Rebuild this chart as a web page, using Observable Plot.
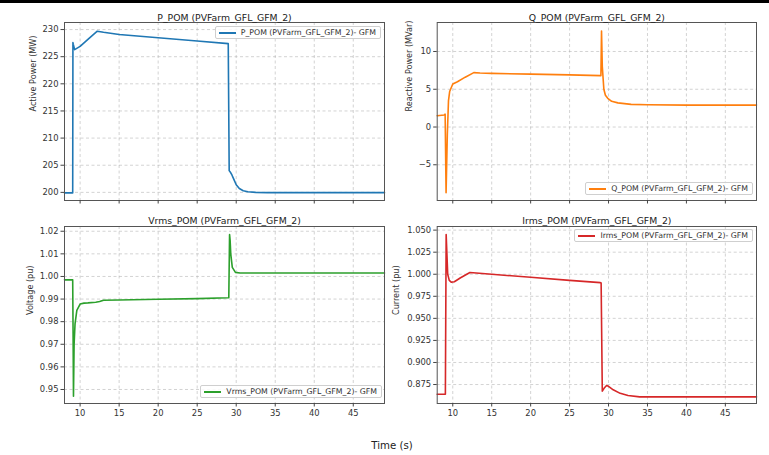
<!DOCTYPE html>
<html>
<head>
<meta charset="utf-8">
<script src="https://cdn.jsdelivr.net/npm/d3@7"></script>
<script src="https://cdn.jsdelivr.net/npm/@observablehq/plot@0.6"></script>
<style>
  html, body { margin: 0; padding: 0; background: #fff; }
  #wrap { position: relative; width: 769px; height: 455px; background: #fff; overflow: hidden; font-family: "DejaVu Sans", sans-serif; }
  #topbar { position: absolute; left: 0; top: 0; width: 769px; height: 3px; background: #000; }
  .panel { position: absolute; }
  .legend { position: absolute; display: flex; align-items: center; height: 13px; padding: 0 4px 0 3px;
            border: 1px solid #cfcfcf; border-radius: 2px; background: rgba(255,255,255,0.85);
            font-size: 7.8px; color: #333; white-space: nowrap; box-sizing: border-box; }
  .legend .swatch { display: inline-block; width: 17px; height: 2px; margin-right: 5px; }
  #xlabel { position: absolute; left: 0; width: 784px; top: 440px; text-align: center; font-size: 10.2px; color: #222; }
</style>
</head>
<body>
<div id="wrap">
  <div id="topbar"></div>
  <div id="xlabel">Time (s)</div>
</div>
<script>
// ---- data ----
const xTicks = [10, 15, 20, 25, 30, 35, 40, 45];

const pTime = [8, 9.05, 9.08, 9.12, 9.3, 10, 11, 12.2, 13, 15, 20, 25, 28.98, 29.1, 29.3, 29.45, 29.7, 30.0, 30.4, 30.9, 31.5, 32.5, 34, 49];
const pVal  = [199.9, 199.9, 227.6, 227.3, 226.3, 226.9, 228.2, 229.7, 229.5, 229.1, 228.5, 227.9, 227.4, 204.0, 203.6, 203.2, 202.4, 201.4, 200.7, 200.3, 200.1, 200.0, 199.95, 199.95];

const qTime = [8, 8.9, 9.02, 9.14, 9.3, 9.45, 9.6, 10.0, 10.6, 11.6, 12.7, 13.5, 15, 20, 25, 28.95, 29.02, 29.1, 29.2, 29.4, 29.6, 29.9, 30.4, 31.2, 32.9, 35, 40, 49];
const qVal  = [1.5, 1.6, 1.7, -8.7, -1.0, 3.5, 4.7, 5.7, 6.0, 6.6, 7.2, 7.15, 7.1, 7.0, 6.9, 6.8, 6.8, 12.7, 8.0, 5.0, 4.2, 3.8, 3.4, 3.2, 3.0, 2.95, 2.9, 2.9];

const vTime = [8, 9.05, 9.1, 9.15, 9.23, 9.35, 9.58, 10.0, 10.5, 11, 12, 12.5, 13, 15, 20, 25, 28.98, 29.05, 29.15, 29.22, 29.3, 29.5, 29.9, 30.5, 49];
const vVal  = [0.9985, 0.9985, 0.975, 0.947, 0.970, 0.979, 0.985, 0.9878, 0.9882, 0.9883, 0.9886, 0.9889, 0.9895, 0.9896, 0.9899, 0.9902, 0.9906, 0.9906, 1.0185, 1.016, 1.010, 1.004, 1.0018, 1.0015, 1.0015];

const iTime = [8, 9.05, 9.15, 9.35, 9.55, 9.8, 10.2, 11, 12.2, 15, 20, 25, 28.95, 29.05, 29.2, 29.45, 29.75, 30.0, 30.6, 31.5, 32.5, 34, 49];
const iVal  = [0.864, 0.864, 1.045, 1.000, 0.993, 0.991, 0.9915, 0.996, 1.002, 1.000, 0.9965, 0.993, 0.9905, 0.990, 0.8675, 0.871, 0.874, 0.873, 0.869, 0.865, 0.8625, 0.861, 0.861];

const pTicks = [200, 205, 210, 215, 220, 225, 230];
const qTicks = [-5, 0, 5, 10];
const vTicks = [0.95, 0.96, 0.97, 0.98, 0.99, 1.00, 1.01, 1.02];
const iTicks = [0.875, 0.900, 0.925, 0.950, 0.975, 1.000, 1.025, 1.050];

const titles  = ["P_POM (PVFarm_GFL_GFM_2)", "Q_POM (PVFarm_GFL_GFM_2)", "Vrms_POM (PVFarm_GFL_GFM_2)", "Irms_POM (PVFarm_GFL_GFM_2)"];
const yLabels = ["Active Power (MW)", "Reactive Power (MVar)", "Voltage (pu)", "Current (pu)"];
const legends = ["P_POM (PVFarm_GFL_GFM_2)- GFM", "Q_POM (PVFarm_GFL_GFM_2)- GFM", "Vrms_POM (PVFarm_GFL_GFM_2)- GFM", "Irms_POM (PVFarm_GFL_GFM_2)- GFM"];
const colors  = ["#1f77b4", "#ff7f0e", "#2ca02c", "#d62728"];

// ---- drawing ----
const wrap = document.getElementById("wrap");

function panel(cfg) {
  const data = cfg.t.map((t, i) => ({t, v: cfg.v[i]}));
  const chart = Plot.plot({
    width: cfg.width, height: cfg.height,
    marginLeft: cfg.ml, marginRight: cfg.mr, marginTop: cfg.mt, marginBottom: cfg.mb,
    style: {fontFamily: "DejaVu Sans", fontSize: "8.4px", color: "#333", background: "transparent", overflow: "visible"},
    x: {domain: [8, 49]},
    y: {domain: cfg.ydomain},
    marks: [
      Plot.gridX(xTicks, {stroke: "#b0b0b0", strokeOpacity: 0.7, strokeDasharray: "3,2.5", strokeWidth: 0.8}),
      Plot.gridY(cfg.yticks, {stroke: "#b0b0b0", strokeOpacity: 0.7, strokeDasharray: "3,2.5", strokeWidth: 0.8}),
      Plot.line(data, {x: "t", y: "v", stroke: cfg.color, strokeWidth: 1.6}),
      Plot.frame({stroke: "#555", strokeWidth: 1}),
      Plot.axisX(xTicks, {tickSize: 3.5, tickPadding: 3, label: null, stroke: "#444",
                          tickFormat: cfg.showX ? d3.format("d") : () => ""}),
      Plot.axisY(cfg.yticks, {tickSize: 3.5, tickPadding: 2.5, label: null, stroke: "#444", tickFormat: cfg.yfmt}),
      Plot.text([cfg.title], {text: d => d, frameAnchor: "top", dy: cfg.titleDy, fontSize: 9.3, fill: "#222"}),
      Plot.text([cfg.ylabel], {text: d => d, frameAnchor: "left", rotate: -90, dx: -cfg.lo, fontSize: 8.1, fill: "#333"})
    ]
  });
  chart.classList.add("panel");
  chart.style.left = cfg.left + "px";
  chart.style.top = cfg.top + "px";
  wrap.appendChild(chart);

  const lg = document.createElement("div");
  lg.className = "legend";
  lg.innerHTML = `<span class="swatch" style="background:${cfg.color}"></span><span>${cfg.legend}</span>`;
  lg.style.right = (769 - cfg.legRight) + "px";
  lg.style.top = cfg.legTop + "px";
  wrap.appendChild(lg);
}

const f0 = d3.format("d"), f2 = d3.format(".2f"), f3 = d3.format(".3f");

// top-left: P
panel({left: 0, top: 0, width: 390, height: 216, ml: 64, mr: 6, mt: 22, mb: 16,
  t: pTime, v: pVal, color: colors[0], ydomain: [198.5, 231.3], yticks: pTicks, yfmt: f0,
  title: titles[0], ylabel: yLabels[0], legend: legends[0], showX: false, lo: 31, titleDy: -8,
  legRight: 381, legTop: 26});
// top-right: Q
panel({left: 390, top: 0, width: 379, height: 216, ml: 46.7, mr: 13, mt: 22, mb: 16,
  t: qTime, v: qVal, color: colors[1], ydomain: [-9.73, 13.84], yticks: qTicks, yfmt: f0,
  title: titles[1], ylabel: yLabels[1], legend: legends[1], showX: false, lo: 27.4, titleDy: -8,
  legRight: 753, legTop: 182});
// bottom-left: V
panel({left: 0, top: 205, width: 390, height: 222, ml: 64, mr: 6, mt: 21, mb: 24,
  t: vTime, v: vVal, color: colors[2], ydomain: [0.9438, 1.0221], yticks: vTicks, yfmt: f2,
  title: titles[2], ylabel: yLabels[2], legend: legends[2], showX: true, lo: 34, titleDy: -9,
  legRight: 382, legTop: 385});
// bottom-right: I
panel({left: 390, top: 205, width: 379, height: 222, ml: 46.7, mr: 13, mt: 21, mb: 24,
  t: iTime, v: iVal, color: colors[3], ydomain: [0.8535, 1.0541], yticks: iTicks, yfmt: f3,
  title: titles[3], ylabel: yLabels[3], legend: legends[3], showX: true, lo: 40.7, titleDy: -9,
  legRight: 753, legTop: 229});
</script>
</body>
</html>
